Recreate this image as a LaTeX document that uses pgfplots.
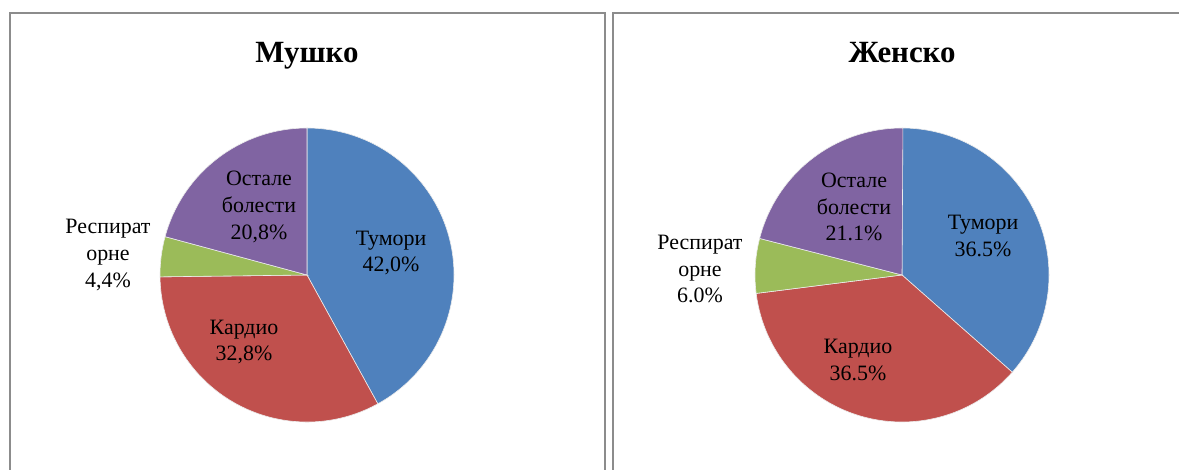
\documentclass[border=0pt]{standalone}
\usepackage{pgfplots}
\pgfplotsset{compat=1.18}
\usepackage{pgfplotstable}
\usepackage{fontspec}
\setmainfont{Liberation Serif}

\definecolor{tum}{HTML}{4F81BD}
\definecolor{kar}{HTML}{C0504D}
\definecolor{res}{HTML}{9BBB59}
\definecolor{ost}{HTML}{8064A2}
\definecolor{frame}{HTML}{8C8C8C}

% shares in percent, clockwise from 12 o'clock
\pgfplotstableread{
val col
42.0 tum
32.8 kar
4.4  res
20.8 ost
}\musko
\pgfplotstableread{
val col
36.5 tum
36.5 kar
6.0  res
21.1 ost
}\zensko

% wedges of one pie, drawn in axis units (radius 1 = 147bp)
\newcommand{\piewedges}[1]{%
  \pgfplotstablegetrowsof{#1}%
  \pgfmathtruncatemacro\nrows{\pgfplotsretval-1}%
  \def\cum{0}%
  \pgfplotsforeachungrouped \i in {0,...,\nrows}{%
    \pgfplotstablegetelem{\i}{val}\of{#1}\let\v\pgfplotsretval
    \pgfplotstablegetelem{\i}{col}\of{#1}\let\c\pgfplotsretval
    \pgfmathsetmacro\aa{90-3.6*\cum}%
    \pgfmathsetmacro\ab{90-3.6*(\cum+\v)}%
    \filldraw[fill=\c, draw=white!85!gray, line width=0.6bp]
      (axis cs:0,0) -- (axis cs:{cos(\aa)},{sin(\aa)})
      arc[start angle=\aa, end angle=\ab, radius=147bp] -- cycle;
    \pgfmathsetmacro\cum{\cum+\v}%
  }}

\pgfplotsset{pie/.style={
  anchor=center, hide axis, clip=false,
  x=147bp, y=147bp, xmin=-1, xmax=1, ymin=-1, ymax=1}}

\tikzset{lab/.style={align=center, font=\fontsize{22}{27}\selectfont},
         ttl/.style={anchor=base, font=\fontsize{31}{34}\selectfont\bfseries}}

\begin{document}
\begin{tikzpicture}
\useasboundingbox (0,0) rectangle (1179bp,470bp);

% frames
\draw[frame, line width=1.3bp] (10bp,-10bp) -- (10bp,457bp) -- (605bp,457bp) -- (605bp,-10bp);
\draw[frame, line width=1.3bp] (613bp,-10bp) -- (613bp,457bp) -- (1190bp,457bp);

% Мушко
\begin{axis}[pie, at={(307bp,195bp)}]
\pgfplotsextra{\piewedges{\musko}}
\end{axis}
\node[ttl] at (307bp,407bp) {Мушко};
\node[lab] at (391bp,217bp) {Тумори\\42,0\%};
\node[lab] at (244bp,128bp) {Кардио\\32,8\%};
\node[lab] at (259bp,263bp) {Остале\\болести\\20,8\%};
\node[lab] at (108bp,215bp) {Респират\\орне\\4,4\%};

% Женско
\begin{axis}[pie, at={(902bp,195bp)}]
\pgfplotsextra{\piewedges{\zensko}}
\end{axis}
\node[ttl] at (902bp,407bp) {Женско};
\node[lab] at (983bp,234bp) {Тумори\\36.5\%};
\node[lab] at (858bp,110bp) {Кардио\\36.5\%};
\node[lab] at (854bp,263bp) {Остале\\болести\\21.1\%};
\node[lab] at (700bp,201bp) {Респират\\орне\\6.0\%};
\end{tikzpicture}
\end{document}
